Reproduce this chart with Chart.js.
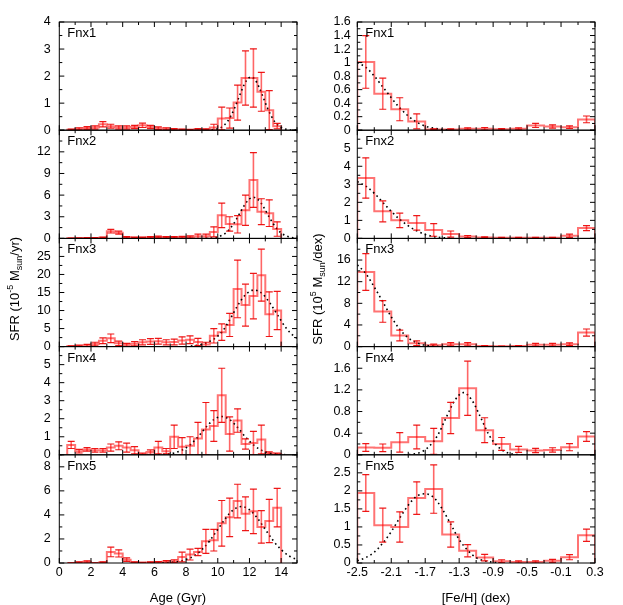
<!doctype html>
<html>
<head>
<meta charset="utf-8">
<title>Fornax fields: SFR vs age and [Fe/H]</title>
<script src="https://cdn.jsdelivr.net/npm/chart.js"></script>
<style>
  body { margin: 0; background: #fff; font-family: "Liberation Sans", Arial, sans-serif; }
  #wrap { position: relative; width: 623px; height: 605px; overflow: hidden; }
  canvas { position: absolute; }
  .lbl { position: absolute; font-size: 13px; color: #000; white-space: nowrap; line-height: 1; }
  .xt { position: absolute; font-size: 13px; white-space: nowrap; transform: translate(-50%, -50%); line-height: 1; }
  .yt { position: absolute; font-size: 13px; white-space: nowrap; transform: translate(-50%, -50%) rotate(-90deg); line-height: 1; }
  sup, sub { font-size: 9px; line-height: 0; }
</style>
</head>
<body>
<div id="wrap"></div>
<script>
const fields = ['Fnx1', 'Fnx2', 'Fnx3', 'Fnx4', 'Fnx5'];

// age bins (Gyr), 0.5 wide
const ageBins = [0.75,1.25,1.75,2.25,2.75,3.25,3.75,4.25,4.75,5.25,5.75,6.25,6.75,7.25,7.75,
                 8.25,8.75,9.25,9.75,10.25,10.75,11.25,11.75,12.25,12.75,13.25,13.75];
const ageBinWidth = 0.5;

const ageSfr1 = [0.02,0.05,0.08,0.10,0.22,0.15,0.10,0.10,0.12,0.18,0.12,0.07,0.05,0.03,0.02,0.01,0.03,0.02,0.10,0.43,0.45,1.02,1.93,1.93,1.42,0.74,0.15];
const ageErr1 = [0.02,0.04,0.05,0.06,0.10,0.07,0.06,0.06,0.06,0.08,0.06,0.05,0.04,0.03,0.02,0.02,0.03,0.03,0.12,0.42,0.37,0.65,1.00,1.08,0.72,0.72,0.10];
const ageSfr2 = [0.02,0.03,0.05,0.05,0.10,1.00,0.80,0.15,0.10,0.10,0.15,0.20,0.15,0.15,0.15,0.20,0.30,0.30,0.90,3.20,2.00,1.95,3.90,8.10,3.70,3.50,1.30];
const ageErr2 = [0.03,0.03,0.05,0.05,0.08,0.25,0.20,0.10,0.08,0.08,0.10,0.12,0.10,0.10,0.12,0.15,0.30,0.30,0.70,1.70,1.00,1.20,2.10,3.80,1.80,1.85,1.00];
const ageSfr3 = [0.1,0.2,0.3,0.7,1.6,2.3,0.9,0.5,0.8,1.2,1.4,1.5,1.2,1.3,1.7,1.9,1.3,0.6,3.0,4.0,6.0,16.0,11.5,14.0,19.8,9.0,10.0];
const ageErr3 = [0.1,0.2,0.3,0.5,0.8,1.2,0.6,0.4,0.6,0.7,0.8,0.8,0.7,0.8,1.0,1.1,1.0,0.6,2.0,2.3,3.2,8.0,5.8,6.3,7.2,6.2,5.3];
const ageSfr4 = [0.55,0.20,0.30,0.25,0.25,0.40,0.50,0.40,0.25,0.05,0.15,0.40,0.20,1.00,0.45,0.50,0.90,1.40,1.60,3.30,1.15,1.90,0.60,0.65,0.85,0.10,0.05];
const ageErr4 = [0.20,0.10,0.10,0.10,0.10,0.20,0.22,0.25,0.20,0.05,0.12,0.35,0.15,0.65,0.50,0.50,0.90,1.50,0.85,1.50,0.95,0.65,0.28,0.65,0.80,0.07,0.05];
const ageSfr5 = [0.00,0.05,0.10,0.00,0.05,0.92,0.80,0.28,0.05,0.02,0.05,0.05,0.10,0.15,0.50,0.70,0.92,1.80,1.90,3.30,3.80,5.15,4.10,4.30,3.00,3.50,4.60];
const ageErr5 = [0.02,0.05,0.08,0.02,0.05,0.40,0.30,0.15,0.05,0.03,0.05,0.06,0.10,0.12,0.40,0.45,0.30,1.00,0.90,1.90,1.60,1.40,1.40,1.85,1.35,1.80,1.60];

// dotted fits
const ageFitX1 = [9.6,10.1,10.35,10.6,10.85,11.1,11.35,11.6,11.85,12.1,12.35,12.6,12.85,13.1,13.35,13.6,13.85,14.1,14.35,14.6,15];
const ageFitY1 = [0.01,0.07,0.16,0.31,0.55,0.87,1.24,1.60,1.87,1.97,1.87,1.60,1.24,0.87,0.55,0.31,0.16,0.07,0.03,0.01,0];
const ageFitX2 = [9.25,9.5,9.75,10,10.25,10.5,10.75,11,11.25,11.5,11.75,12,12.25,12.5,12.75,13,13.25,13.5,13.75,14,14.25,14.5,14.75,15];
const ageFitY2 = [0.015,0.04,0.09,0.2,0.41,0.75,1.29,2.03,2.94,3.93,4.83,5.47,5.7,5.47,4.83,3.93,2.94,2.03,1.29,0.75,0.41,0.2,0.09,0.04];
const ageFitX3 = [8.3,8.8,9.3,9.8,10.3,10.8,11.3,11.8,12.3,12.8,13.3,13.8,14.3,14.8,15];
const ageFitY3 = [0.14,0.42,1.1,2.2,4.3,7.8,11.7,14.6,15.7,14.7,12.0,8.6,5.2,2.9,2.3];
const ageFitX4 = [6.25,6.75,7.25,7.75,8.25,8.75,9.25,9.75,10.25,10.75,11.25,11.75,12.25,12.75,13.25,13.75,14.25];
const ageFitY4 = [0.01,0.03,0.10,0.26,0.55,0.99,1.52,1.95,2.12,1.95,1.52,0.99,0.55,0.26,0.10,0.03,0.01];
const ageFitX5 = [6.5,7,7.5,8,8.5,9,9.5,10,10.5,11,11.5,12,12.5,13,13.5,14,14.5,15];
const ageFitY5 = [0.015,0.04,0.12,0.28,0.59,1.11,1.86,2.79,3.73,4.44,4.7,4.44,3.73,2.79,1.86,1.11,0.59,0.28];

// metallicity bins (dex), 0.2 wide
const fehBins = [-2.4,-2.2,-2.0,-1.8,-1.6,-1.4,-1.2,-1.0,-0.8,-0.6,-0.4,-0.2,0.0,0.2];
const fehBinWidth = 0.2;

const fehSfr1 = [1.01,0.54,0.31,0.13,0.01,0.01,0.02,0.02,0.015,0.02,0.07,0.055,0.045,0.16];
const fehErr1 = [0.39,0.23,0.17,0.11,0.01,0.01,0.015,0.02,0.01,0.015,0.03,0.025,0.02,0.05];
const fehSfr2 = [3.35,1.5,1.0,0.86,0.47,0.24,0.1,0.05,0.03,0.03,0.03,0.03,0.15,0.57];
const fehErr2 = [1.12,0.58,0.4,0.4,0.35,0.17,0.06,0.04,0.03,0.03,0.03,0.03,0.09,0.14];
const fehSfr3 = [13.8,6.5,2.05,0.62,0.25,0.45,0.45,0.1,0.05,0.1,0.35,0.35,0.45,2.6];
const fehErr3 = [3.4,2.0,1.0,0.45,0.2,0.3,0.3,0.1,0.05,0.1,0.25,0.25,0.25,0.65];
const fehSfr4 = [0.135,0.13,0.23,0.33,0.25,0.68,1.23,0.455,0.2,0.1,0.08,0.09,0.14,0.34];
const fehErr4 = [0.07,0.07,0.18,0.22,0.24,0.29,0.5,0.23,0.12,0.055,0.04,0.04,0.065,0.09];
const fehSfr5 = [1.94,1.05,1.0,1.8,2.05,0.79,0.34,0.15,0.05,0.03,0.03,0.06,0.16,0.77];
const fehErr5 = [0.51,0.47,0.42,0.45,0.67,0.35,0.17,0.09,0.04,0.03,0.03,0.04,0.07,0.17];

const fehFitX1 = [-2.5,-2.4,-2.3,-2.2,-2.1,-2.0,-1.9,-1.8,-1.7,-1.6,-1.5,-1.4];
const fehFitY1 = [1.0,0.93,0.8,0.64,0.48,0.33,0.21,0.12,0.06,0.03,0.01,0];
const fehFitX2 = [-2.5,-2.4,-2.3,-2.2,-2.1,-2.0,-1.9,-1.8,-1.7,-1.6,-1.5,-1.4];
const fehFitY2 = [3.15,2.9,2.5,2.0,1.5,1.05,0.7,0.42,0.22,0.1,0.04,0.01];
const fehFitX3 = [-2.5,-2.4,-2.3,-2.2,-2.1,-2.0,-1.9,-1.8,-1.7,-1.6,-1.5,-1.4];
const fehFitY3 = [15.1,13.5,11.0,8.3,5.5,3.2,1.6,0.7,0.25,0.07,0.01,0];
const fehFitX4 = [-1.95,-1.85,-1.75,-1.65,-1.55,-1.45,-1.35,-1.25,-1.15,-1.05,-0.95,-0.85,-0.75,-0.65,-0.55];
const fehFitY4 = [0.0,0.01,0.05,0.16,0.37,0.70,1.01,1.15,1.01,0.70,0.37,0.16,0.05,0.01,0.0];
const fehFitX5 = [-2.5,-2.4,-2.3,-2.2,-2.1,-2.0,-1.9,-1.8,-1.7,-1.6,-1.5,-1.4,-1.3,-1.2,-1.1,-1.0,-0.9,-0.8];
const fehFitY5 = [0.06,0.15,0.3,0.55,0.87,1.25,1.6,1.85,1.92,1.82,1.5,1.08,0.65,0.35,0.15,0.06,0.02,0.0];

// axes
const ageXTicks = [0,2,4,6,8,10,12,14];
const fehXTicks = [-2.5,-2.1,-1.7,-1.3,-0.9,-0.5,-0.1,0.3];
const ageYMax = [4, 15, 30, 6, 9];
const ageYTicks = [[0,1,2,3,4],[0,3,6,9,12],[0,5,10,15,20,25],[0,1,2,3,4,5],[0,2,4,6,8]];
const ageYMinor = [0.5, 1.5, 2.5, 0.5, 1];
const fehYMax = [1.6, 6, 20, 2, 3];
const fehYTicks = [[0,0.2,0.4,0.6,0.8,1,1.2,1.4,1.6],[0,1,2,3,4,5],[0,4,8,12,16],[0,0.4,0.8,1.2,1.6],[0,0.5,1,1.5,2,2.5]];
const fehYMinor = [0.1, 0.5, 2, 0.2, 0.25];

const ageSfr = [ageSfr1, ageSfr2, ageSfr3, ageSfr4, ageSfr5];
const ageErr = [ageErr1, ageErr2, ageErr3, ageErr4, ageErr5];
const ageFitX = [ageFitX1, ageFitX2, ageFitX3, ageFitX4, ageFitX5];
const ageFitY = [ageFitY1, ageFitY2, ageFitY3, ageFitY4, ageFitY5];
const fehSfr = [fehSfr1, fehSfr2, fehSfr3, fehSfr4, fehSfr5];
const fehErr = [fehErr1, fehErr2, fehErr3, fehErr4, fehErr5];
const fehFitX = [fehFitX1, fehFitX2, fehFitX3, fehFitX4, fehFitX5];
const fehFitY = [fehFitY1, fehFitY2, fehFitY3, fehFitY4, fehFitY5];

const wrap = document.getElementById('wrap');
const FONT = '"Liberation Sans", Arial, sans-serif';
const PLOT_TOP = 22, PH = 108.2, PW = 237.7, MARGIN = 18;
const cols = [
  { plotLeft: 59.3, xmin: 0, xmax: 15, xTicks: ageXTicks, xMinor: 1, bins: ageBins, bw: ageBinWidth,
    sfr: ageSfr, err: ageErr, fx: ageFitX, fy: ageFitY, ymax: ageYMax, yTicks: ageYTicks, yMinor: ageYMinor },
  { plotLeft: 357.3, xmin: -2.5, xmax: 0.3, xTicks: fehXTicks, xMinor: 0.2, bins: fehBins, bw: fehBinWidth,
    sfr: fehSfr, err: fehErr, fx: fehFitX, fy: fehFitY, ymax: fehYMax, yTicks: fehYTicks, yMinor: fehYMinor }
];

function steps(centers, w, vals) {
  const pts = [{ x: centers[0] - w / 2, y: 0 }];
  centers.forEach((c, i) => pts.push({ x: c - w / 2, y: vals[i] }));
  pts.push({ x: centers[centers.length - 1] + w / 2, y: 0 });
  return pts;
}

function decor(col, r) {
  return {
    id: 'decor',
    afterDatasetsDraw(chart) {
      const { ctx, chartArea: a, scales: { x, y } } = chart;
      const vals = col.sfr[r], errs = col.err[r];
      ctx.save();
      ctx.beginPath(); ctx.rect(a.left, a.top, a.width, a.height); ctx.clip();
      col.bins.forEach((c, i) => {
        const px = x.getPixelForValue(c);
        const lo = y.getPixelForValue(Math.max(0, vals[i] - errs[i]));
        const hi = y.getPixelForValue(vals[i] + errs[i]);
        ctx.strokeStyle = 'rgba(255,0,0,0.6)';
        ctx.lineWidth = 1.6;
        ctx.beginPath(); ctx.moveTo(px, lo); ctx.lineTo(px, hi); ctx.stroke();
        ctx.strokeStyle = 'rgba(235,0,0,0.9)';
        ctx.lineWidth = 1.2;
        ctx.beginPath();
        ctx.moveTo(px - 3.5, lo); ctx.lineTo(px + 3.5, lo);
        ctx.moveTo(px - 3.5, hi); ctx.lineTo(px + 3.5, hi);
        ctx.stroke();
      });
      ctx.restore();
    },
    afterDraw(chart) {
      const { ctx, chartArea: a, scales: { x, y } } = chart;
      ctx.save();
      ctx.strokeStyle = '#000';
      ctx.lineWidth = 1;
      ctx.strokeRect(a.left, a.top, a.width, a.height);
      ctx.beginPath();
      const nx = Math.round((col.xmax - col.xmin) / col.xMinor);
      for (let k = 0; k <= nx; k++) {
        const v = col.xmin + k * col.xMinor;
        const major = col.xTicks.some(t => Math.abs(t - v) < 1e-6);
        const len = major ? 5 : 3;
        const px = x.getPixelForValue(v);
        ctx.moveTo(px, a.bottom); ctx.lineTo(px, a.bottom - len);
        ctx.moveTo(px, a.top); ctx.lineTo(px, a.top + len);
      }
      const ymax = col.ymax[r], ym = col.yMinor[r];
      const ny = Math.round(ymax / ym);
      for (let k = 0; k <= ny; k++) {
        const v = k * ym;
        const major = k % 2 === 0;
        const len = major ? 5 : 3;
        const py = y.getPixelForValue(v);
        ctx.moveTo(a.left, py); ctx.lineTo(a.left + len, py);
        ctx.moveTo(a.right, py); ctx.lineTo(a.right - len, py);
      }
      ctx.stroke();
      ctx.restore();
    }
  };
}

cols.forEach((col, ci) => {
  for (let r = 0; r < 5; r++) {
    const bottom = r === 4;
    const plotTop = PLOT_TOP + r * PH;
    const cLeft = Math.floor(col.plotLeft) - 55;
    const yw = col.plotLeft - cLeft;
    const cTop = Math.floor(plotTop) - MARGIN;
    const padT = plotTop - cTop;
    const xh = bottom ? 20 : 0;
    const below = bottom ? 40 : MARGIN;
    const cW = Math.ceil(yw + PW + 12);
    const cH = Math.ceil(padT + PH + below);
    const cv = document.createElement('canvas');
    cv.width = cW; cv.height = cH;
    cv.style.left = cLeft + 'px'; cv.style.top = cTop + 'px';
    cv.style.width = cW + 'px'; cv.style.height = cH + 'px';
    wrap.appendChild(cv);

    const fit = col.fx[r].map((v, i) => ({ x: v, y: col.fy[r][i] }));
    new Chart(cv, {
      type: 'scatter',
      data: {
        datasets: [
          { data: fit, showLine: true, borderColor: '#000', borderWidth: 1.6, borderDash: [1.6, 3.2],
            pointRadius: 0, cubicInterpolationMode: 'monotone' },
          { data: steps(col.bins, col.bw, col.sfr[r]), showLine: true, stepped: true,
            borderColor: 'rgba(255,0,0,0.55)', borderWidth: 2, pointRadius: 0 }
        ]
      },
      options: {
        responsive: false, animation: false, events: [],
        layout: { padding: { left: 0, top: padT, right: cW - yw - PW, bottom: cH - padT - PH - xh } },
        plugins: { legend: { display: false }, tooltip: { enabled: false } },
        scales: {
          x: {
            type: 'linear', min: col.xmin, max: col.xmax, display: bottom,
            grid: { display: false, drawTicks: false }, border: { display: false },
            ticks: { font: { family: FONT, size: 12.5 }, color: '#000', padding: 2, maxRotation: 0, autoSkip: false,
                     callback: v => String(v) },
            afterBuildTicks: s => { s.ticks = col.xTicks.map(v => ({ value: v })); },
            afterFit: s => { s.height = xh; }
          },
          y: {
            type: 'linear', min: 0, max: col.ymax[r],
            grid: { display: false, drawTicks: false }, border: { display: false },
            ticks: { font: { family: FONT, size: 12.5 }, color: '#000', padding: ci === 0 ? 8.5 : 6.5, autoSkip: false,
                     callback: v => String(v) },
            afterBuildTicks: s => { s.ticks = col.yTicks[r].map(v => ({ value: v })); },
            afterFit: s => { s.width = yw; }
          }
        }
      },
      plugins: [decor(col, r)]
    });

    const lab = document.createElement('div');
    lab.className = 'lbl';
    lab.textContent = fields[r];
    lab.style.left = (col.plotLeft + 8) + 'px';
    lab.style.top = (plotTop + 4) + 'px';
    wrap.appendChild(lab);
  }
});

function addText(cls, html, x, y) {
  const d = document.createElement('div');
  d.className = cls; d.innerHTML = html;
  d.style.left = x + 'px'; d.style.top = y + 'px';
  wrap.appendChild(d);
}
addText('xt', 'Age (Gyr)', 178, 597);
addText('xt', '[Fe/H] (dex)', 476, 597);
addText('yt', 'SFR (10<sup>-5</sup> M<sub>sun</sub>/yr)', 14, 289);
addText('yt', 'SFR (10<sup>5</sup> M<sub>sun</sub>/dex)', 317, 289);
</script>
</body>
</html>
